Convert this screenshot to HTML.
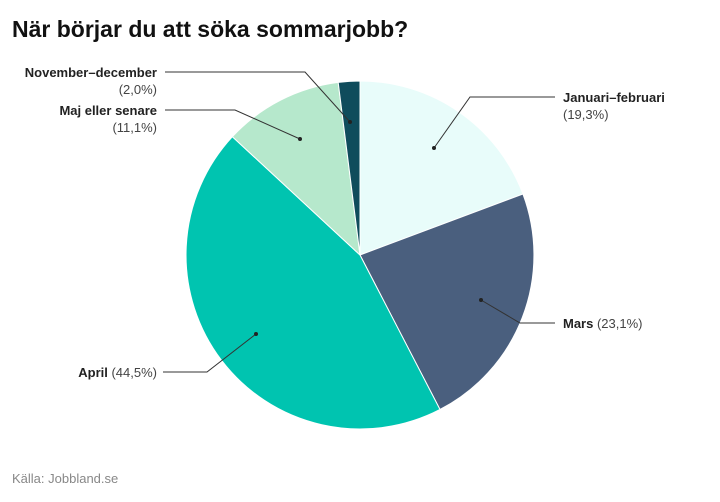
<!DOCTYPE html>
<html><head><meta charset="utf-8"><style>
body{margin:0;background:#fff;width:720px;height:497px;overflow:hidden;font-family:"Liberation Sans",sans-serif}
</style></head><body>
<svg width="720" height="497" viewBox="0 0 720 497" xmlns="http://www.w3.org/2000/svg" font-family="Liberation Sans, sans-serif">
<text x="12" y="37" font-size="23" font-weight="bold" fill="#111">När börjar du att söka sommarjobb?</text>
<g stroke="#fff" stroke-width="1">
<path d="M360,255 L360,81 A174,174 0 0 1 522.9,194 Z" fill="#e8fcfa"/>
<path d="M360,255 L522.9,194 A174,174 0 0 1 440,409.5 Z" fill="#4a5f7e"/>
<path d="M360,255 L440,409.5 A174,174 0 0 1 232.4,136.7 Z" fill="#00c4b0"/>
<path d="M360,255 L232.4,136.7 A174,174 0 0 1 338.2,82.4 Z" fill="#b6e8cc"/>
<path d="M360,255 L338.2,82.4 A174,174 0 0 1 360,81 Z" fill="#0f4c5c"/>
</g>
<g stroke="#333" stroke-width="1" fill="none">
<polyline points="434,148 470,97 555,97"/>
<polyline points="481,300 520,323 555,323"/>
<polyline points="256,334 207,372 163,372"/>
<polyline points="300,139 235,110 165,110"/>
<polyline points="350,122 305,72 165,72"/>
</g>
<g fill="#222">
<circle cx="434" cy="148" r="2"/><circle cx="481" cy="300" r="2"/><circle cx="256" cy="334" r="2"/><circle cx="300" cy="139" r="2"/><circle cx="350" cy="122" r="2"/>
</g>
<g font-size="13" fill="#222">
<text x="563" y="102" font-weight="bold">Januari–februari</text>
<text x="563" y="119" fill="#444">(19,3%)</text>
<text x="563" y="328"><tspan font-weight="bold">Mars</tspan><tspan fill="#444"> (23,1%)</tspan></text>
<g text-anchor="end">
<text x="157" y="377"><tspan font-weight="bold">April</tspan><tspan fill="#444"> (44,5%)</tspan></text>
<text x="157" y="115" font-weight="bold">Maj eller senare</text>
<text x="157" y="132" fill="#444">(11,1%)</text>
<text x="157" y="77" font-weight="bold">November–december</text>
<text x="157" y="94" fill="#444">(2,0%)</text>
</g>
</g>
<text x="12" y="483" font-size="13" fill="#888">Källa: Jobbland.se</text>
</svg>
</body></html>
